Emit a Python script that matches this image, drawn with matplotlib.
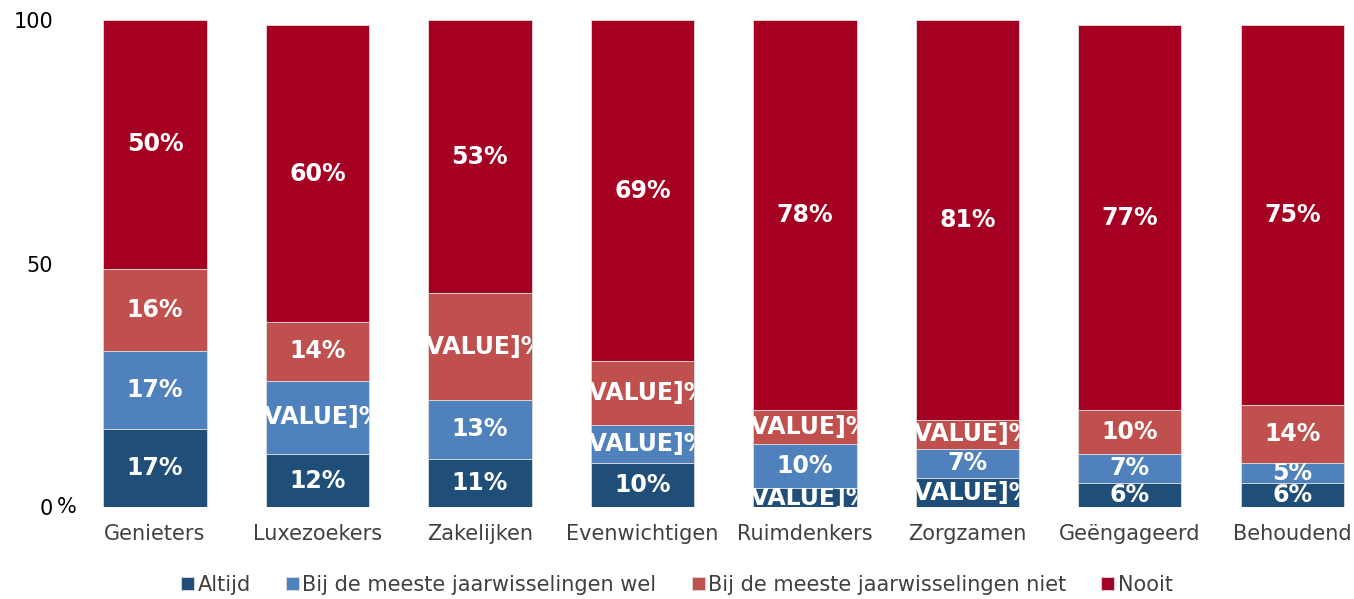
import numpy as np
import matplotlib
matplotlib.use("Agg")
import matplotlib.pyplot as plt

categories = ["Genieters", "Luxezoekers", "Zakelijken", "Evenwichtigen",
              "Ruimdenkers", "Zorgzamen", "Geëngageerd", "Behoudend"]
series = ["Altijd", "Bij de meeste jaarwisselingen wel",
          "Bij de meeste jaarwisselingen niet", "Nooit"]

# segment heights
altijd = [16, 11, 10, 9, 4, 6, 5, 5]
wel = [16, 15, 12, 8, 9, 6, 6, 4]
niet = [17, 12, 22, 13, 7, 6, 9, 12]
nooit = [51, 61, 56, 70, 80, 82, 79, 78]

# data labels as printed (None = broken label)
lab_altijd = [17, 12, 11, 10, None, None, 6, 6]
lab_wel = [17, None, 13, None, 10, 7, 7, 5]
lab_niet = [16, 14, None, None, None, None, 10, 14]
lab_nooit = [50, 60, 53, 69, 78, 81, 77, 75]

colors = ["#1F4E79", "#4F81BD", "#C0504D", "#A50021"]
text_col = "#404040"

plt.rcParams['font.family'] = ['DejaVu Sans']

fig = plt.figure(figsize=(13.54, 5.99), dpi=100)
ax = fig.add_axes([73.8 / 1354, 91.7 / 599, 1 - 73.8 / 1354, 487 / 599])

x = np.arange(len(categories))
bottom = np.zeros(len(categories))
data = [altijd, wel, niet, nooit]
labels = [lab_altijd, lab_wel, lab_niet, lab_nooit]

for vals, labs, col, name in zip(data, labels, colors, series):
    bars = ax.bar(x, vals, bottom=bottom, width=0.636, color=col,
                  edgecolor="#dcdcdc", linewidth=0.6, label=name)
    for i, (b, v, lab) in enumerate(zip(bars, vals, labs)):
        txt = f"{lab}%" if lab is not None else "[VALUE]%"
        t = ax.text(x[i], bottom[i] + v / 2, txt, ha="center", va="center",
                    color="white", fontsize=17, fontweight="bold", clip_on=True)
        t.set_clip_path(b)
    bottom += np.array(vals)

ax.set_xlim(-0.5, 7.38)
ax.set_ylim(0, 100)
ax.set_yticks([0, 50, 100])
ax.set_yticklabels(["0", "50", "100"], fontsize=15, color="black")
ax.set_xticks(x)
ax.set_xticklabels(categories, fontsize=15, color=text_col)
ax.tick_params(axis="x", length=0, pad=12)
ax.tick_params(axis="y", length=0, pad=15)
for s in ax.spines.values():
    s.set_visible(False)

# the "%" after the 0 tick
fig.text(57 / 1354, 91.7 / 599, "%", fontsize=15, ha="left", va="center")

fig.legend(loc="center", bbox_to_anchor=(0.5, 0.024), ncol=4, frameon=False,
           fontsize=15, handlelength=0.62, handleheight=0.62, handletextpad=0.15,
           columnspacing=1.7, labelcolor=text_col)

fig.savefig("out.png", dpi=100)
